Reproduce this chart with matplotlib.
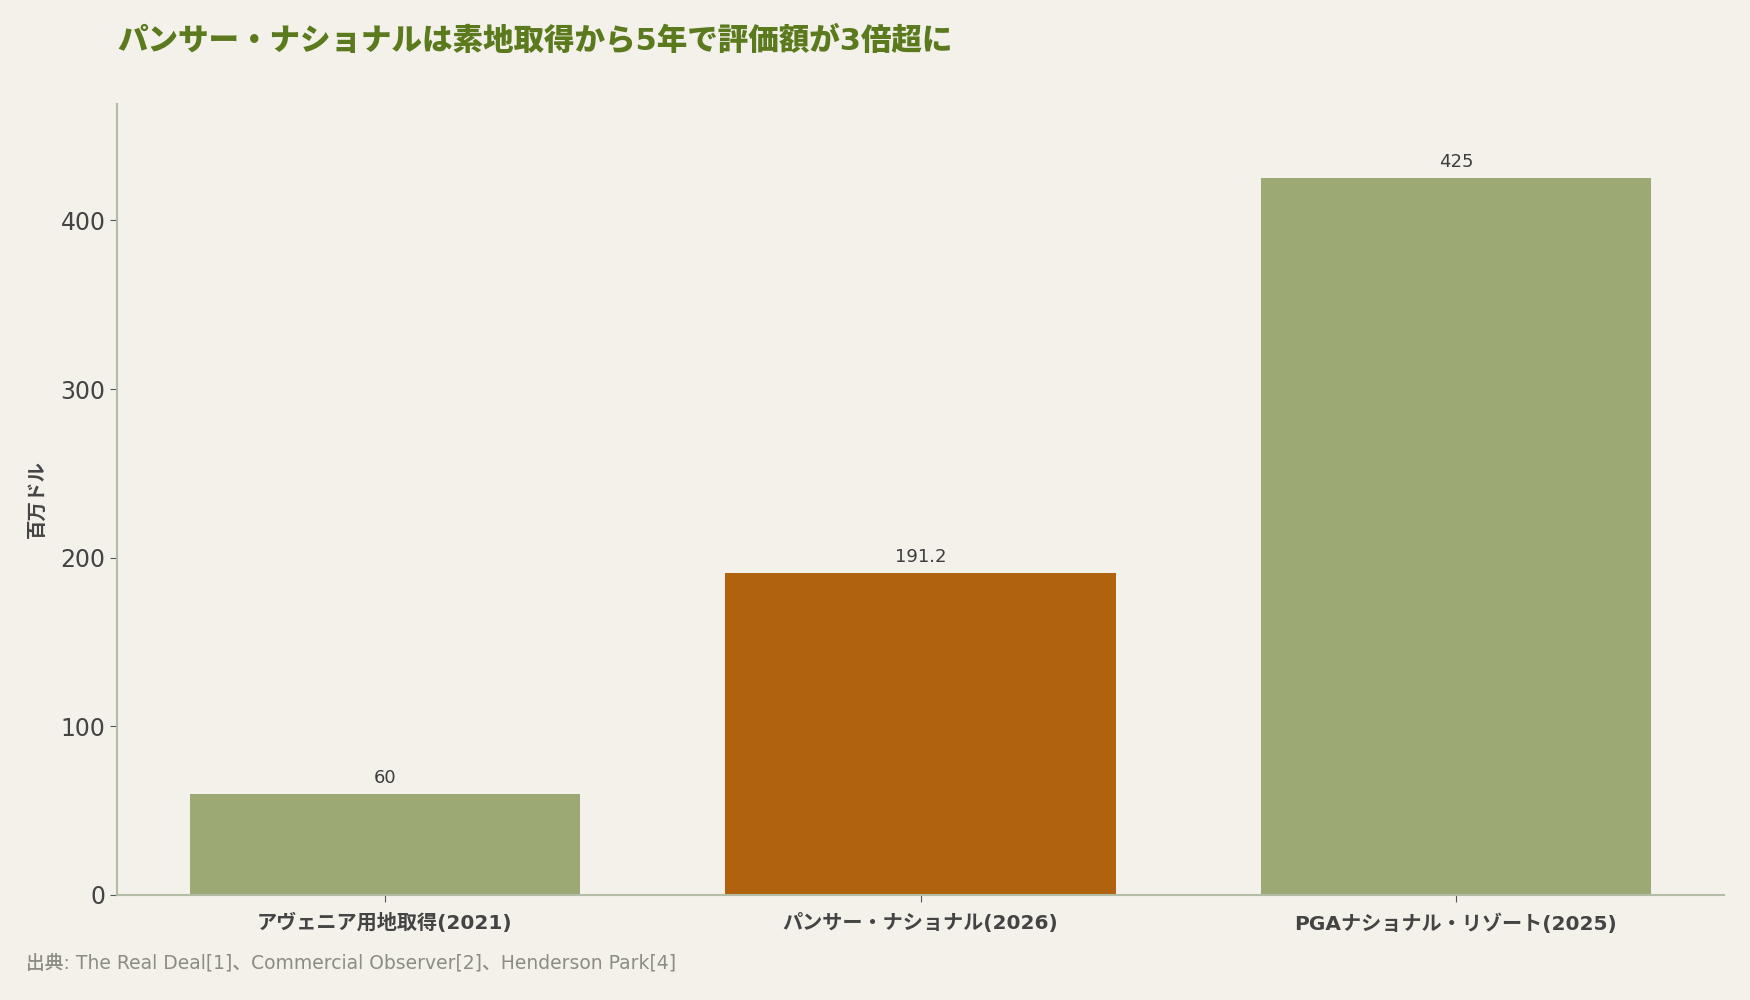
import matplotlib.pyplot as plt

plt.rcParams['font.family'] = ['DejaVu Sans', 'Noto Sans CJK JP']

categories = ['アヴェニア用地取得(2021)', 'パンサー・ナショナル(2026)', 'PGAナショナル・リゾート(2025)']
values = [60, 191.2, 425]
value_labels = ['60', '191.2', '425']
colors = ['#9ca975', '#b0620f', '#9ca975']

bg = '#f3f1ea'
fig = plt.figure(figsize=(17.5, 10), dpi=100, facecolor=bg)
ax = fig.add_axes([0.067, 0.105, 0.918, 0.791])
ax.set_facecolor(bg)

x = range(len(categories))
bars = ax.bar(x, values, width=0.73, color=colors)
for b, lab in zip(bars, value_labels):
    ax.text(b.get_x() + b.get_width() / 2, b.get_height() + 4, lab,
            ha='center', va='bottom', fontsize=13, color='#3d3d3d')

ax.set_xlim(-0.5, 2.5)
ax.set_ylim(0, 469)
ax.set_xticks(list(x))
ax.set_xticklabels(categories, fontsize=14.5, fontweight='bold', color='#444444')
ax.set_yticks([0, 100, 200, 300, 400])
ax.tick_params(axis='y', labelsize=17, labelcolor='#444444', color='#555555', length=5)
ax.tick_params(axis='x', color='#555555', length=5, pad=8)
ax.set_ylabel('百万ドル', fontsize=14, fontweight='bold', color='#444444', labelpad=10)

for s in ['top', 'right']:
    ax.spines[s].set_visible(False)
for s in ['left', 'bottom']:
    ax.spines[s].set_color('#b3bda6')
    ax.spines[s].set_linewidth(1.5)

fig.text(0.067, 0.96, 'パンサー・ナショナルは素地取得から5年で評価額が3倍超に',
         fontsize=22, fontweight='black', color='#5b7a1e', va='center', ha='left')
fig.text(0.015, 0.037, '出典: The Real Deal[1]、Commercial Observer[2]、Henderson Park[4]',
         fontsize=13.5, fontweight='medium', color='#8c8c84', ha='left', va='center')

fig.savefig('out.png', dpi=100, facecolor=bg)
